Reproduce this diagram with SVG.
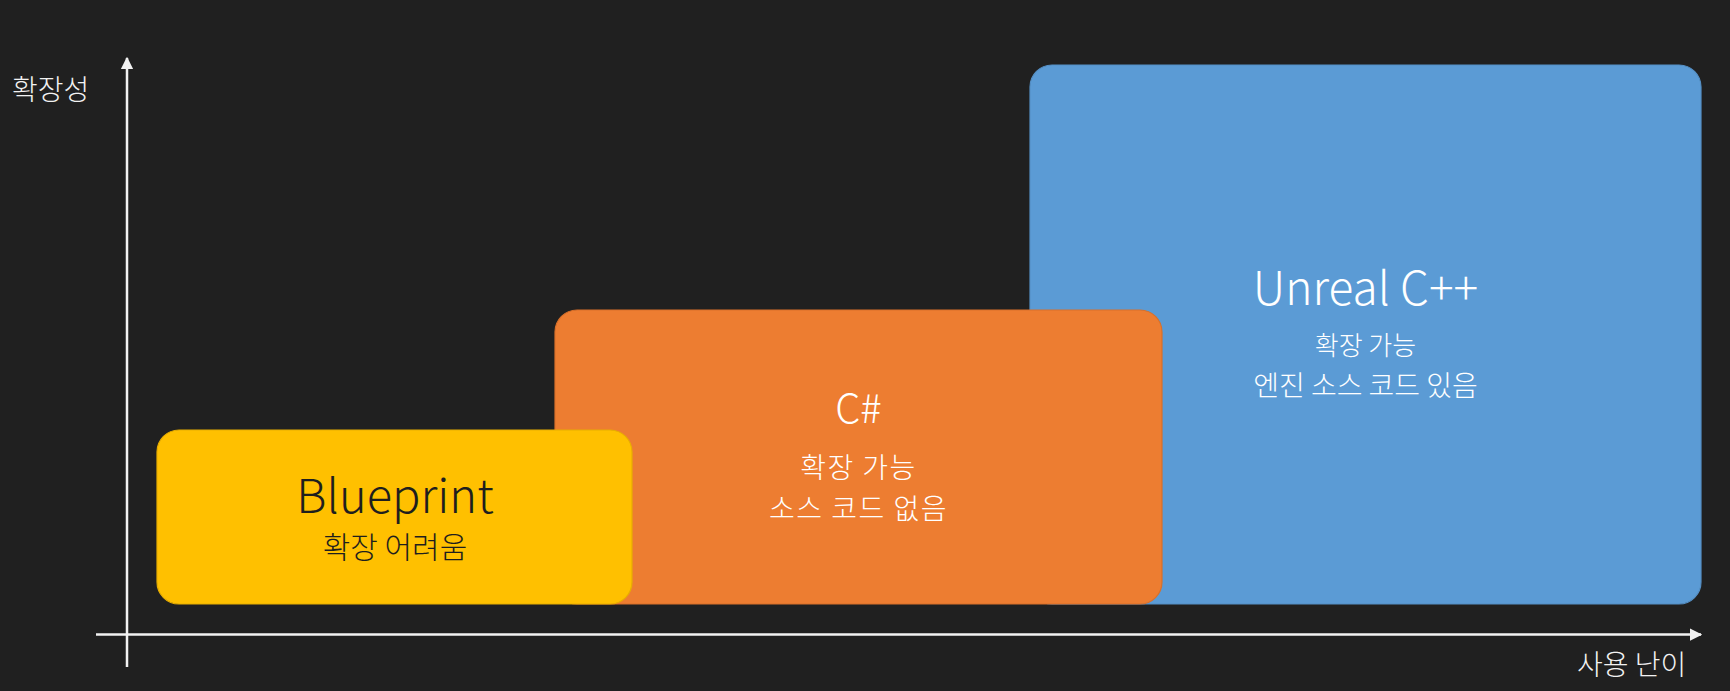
<svg xmlns="http://www.w3.org/2000/svg" width="1730" height="691" viewBox="0 0 1730 691">
  <defs>
    <style>
      .box { stroke-width: 1.2; }
      .t { font-family: "Noto Sans CJK KR", "Noto Sans", sans-serif; font-weight: 300; text-anchor: middle; }
      .light { fill: #ffffff; }
      .dark { fill: #1e1e1e; }
      .axis { stroke: #f2f2f2; stroke-width: 2.5; fill: none; }
      .lbl { font-family: "Noto Sans CJK KR", "Noto Sans", sans-serif; font-weight: 300; font-size: 28px; fill: #f2f2f2; }
    </style>
    <marker id="arrow" viewBox="0 0 10 10" refX="9" refY="5" markerWidth="5" markerHeight="5" markerUnits="strokeWidth" orient="auto">
      <path d="M0,0 L10,5 L0,10 z" fill="#f2f2f2"/>
    </marker>
  </defs>
  <rect x="0" y="0" width="1730" height="691" fill="#202020"/>

  <g id="connectors">
    <line class="axis" x1="127" y1="667" x2="127" y2="58" marker-end="url(#arrow)"/>
    <line class="axis" x1="96" y1="634.5" x2="1701" y2="634.5" marker-end="url(#arrow)"/>
  </g>

  <g id="axis-y-label">
    <text class="lbl" x="12" y="100">확장성</text>
  </g>
  <g id="axis-x-label">
    <text class="lbl" x="1577" y="675">사용 난이</text>
  </g>

  <g id="unreal">
    <rect class="box" x="1030" y="65" width="671" height="539" rx="22" fill="#5B9BD5" stroke="#5590c6"/>
    <text class="t light" x="1365.5" y="305" font-size="46">Unreal C++</text>
    <text class="t light" x="1365.5" y="355" font-size="26">확장 가능</text>
    <text class="t light" x="1365.5" y="396" font-size="28">엔진 소스 코드 있음</text>
  </g>

  <g id="csharp">
    <rect class="box" x="555" y="310" width="607" height="294" rx="22" fill="#ED7D31" stroke="#d9702a"/>
    <text class="t light" x="858.5" y="423" font-size="40">C#</text>
    <text class="t light" x="858.5" y="478" font-size="28" letter-spacing="1.5">확장 가능</text>
    <text class="t light" x="858.5" y="519" font-size="28" letter-spacing="1.5">소스 코드 없음</text>
  </g>

  <g id="blueprint">
    <rect class="box" x="157" y="430" width="475" height="174" rx="22" fill="#FFC000" stroke="#e8ae00"/>
    <text class="t dark" x="395" y="513" font-size="47">Blueprint</text>
    <text class="t dark" x="395" y="558" font-size="30">확장 어려움</text>
  </g>
</svg>
